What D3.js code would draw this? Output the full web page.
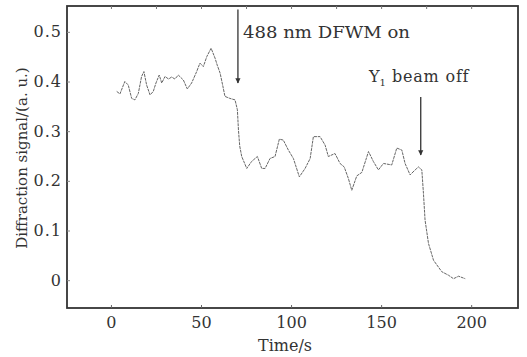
<!DOCTYPE html>
<html>
<head>
<meta charset="utf-8">
<script src="https://cdn.jsdelivr.net/npm/d3@7"></script>
<style>
  body { margin: 0; background: #fff; }
  text { font-family: "DejaVu Serif", serif; fill: #333; }
</style>
</head>
<body>
<div id="chart-area"></div>
<script>
// time in seconds
var times = [3.2, 5, 7.7, 9.6, 11.5, 13.3, 15.2, 17, 18.3, 19.8, 21.7, 23.5, 25, 26.8, 28.2, 30, 32, 33.7, 35.5, 37.4,
  40.2, 42.4, 44.8, 47.6, 49.4, 51.3, 53.2, 55.6, 57.8, 59, 60.6, 62, 63.3, 66, 68.9, 70.2, 70.8, 71.5, 72.6, 75.4,
  78.1, 81.3, 83.7, 85.6, 88.3, 91.1, 93.5, 95.7, 98.5, 101.3, 104.6, 107.8, 110.6, 112.4, 116.1, 118.9, 120.7, 124.4, 127.2, 129.5,
  131.8, 133.7, 136.5, 139.3, 143, 145.7, 148.5, 151.3, 155.9, 158.7, 161.5, 163.3, 166.1, 168.9, 170.7, 172.6, 173.5, 174.4, 176.3, 179.1,
  183.7, 187.4, 190.2, 193, 196.7];
// diffraction signal (a.u.)
var signal = [0.38, 0.375, 0.40, 0.393, 0.366, 0.363, 0.376, 0.41, 0.42, 0.393, 0.373, 0.38, 0.397, 0.413, 0.397, 0.41, 0.405, 0.409, 0.405, 0.413,
  0.403, 0.385, 0.397, 0.42, 0.437, 0.43, 0.45, 0.467, 0.447, 0.433, 0.417, 0.393, 0.37, 0.366, 0.363, 0.343, 0.302, 0.27, 0.249, 0.225,
  0.239, 0.249, 0.225, 0.225, 0.245, 0.249, 0.284, 0.282, 0.262, 0.245, 0.208, 0.225, 0.245, 0.289, 0.289, 0.272, 0.249, 0.255, 0.235, 0.228,
  0.205, 0.181, 0.21, 0.217, 0.259, 0.239, 0.222, 0.235, 0.232, 0.266, 0.262, 0.235, 0.212, 0.222, 0.228, 0.222, 0.175, 0.121, 0.074, 0.040,
  0.017, 0.010, 0.003, 0.008, 0.003];

var xTicks = [0, 50, 100, 150, 200];
var xTopTicks = [0, 25, 50, 75, 100, 125, 150, 175, 200];
var yTicks = [0, 0.1, 0.2, 0.3, 0.4, 0.5];
var yTickLabels = ["0", "0.1", "0.2", "0.3", "0.4", "0.5"];

// annotations: [time, arrow top, arrow tip]
var annotations = [
  { label: "488 nm DFWM on", t: 70.5, top: 0.545, tip: 0.397 },
  { label: "beam off", t: 172, top: 0.369, tip: 0.252 }
];

var width = 527, height = 357;
var margin = { left: 67, right: 9, top: 6, bottom: 49 };

var xscale = d3.scaleLinear().domain([-24.4, 226]).range([margin.left, width - margin.right]);
var yscale = d3.scaleLinear().domain([-0.056, 0.552]).range([height - margin.bottom, margin.top]);

var svg = d3.select("#chart-area").append("svg")
  .attr("width", width)
  .attr("height", height);

// trace
var line = d3.line()
  .x(function (d, i) { return xscale(times[i]); })
  .y(function (d) { return yscale(d); });

svg.append("path")
  .datum(signal)
  .attr("d", line)
  .attr("fill", "none")
  .attr("stroke", "#666")
  .attr("stroke-width", 1)
  .attr("stroke-dasharray", "3,0.8");

// frame
svg.append("rect")
  .attr("x", margin.left)
  .attr("y", margin.top)
  .attr("width", width - margin.left - margin.right)
  .attr("height", height - margin.bottom - margin.top)
  .attr("fill", "none")
  .attr("stroke", "#333")
  .attr("stroke-width", 1.8);

// bottom axis
var xAxis = d3.axisBottom(xscale).tickValues(xTicks).tickSize(-3).tickPadding(9);
svg.append("g")
  .attr("transform", "translate(0," + (height - margin.bottom) + ")")
  .call(xAxis)
  .call(function (g) { g.select(".domain").remove(); })
  .call(function (g) { g.selectAll("line").attr("stroke", "#666"); })
  .selectAll("text")
  .attr("font-size", "16px")
  .attr("font-family", "DejaVu Serif, serif")
  .attr("fill", "#333");

// top ticks
svg.append("g")
  .attr("transform", "translate(0," + margin.top + ")")
  .call(d3.axisTop(xscale).tickValues(xTopTicks).tickSize(-3).tickFormat(""))
  .call(function (g) { g.select(".domain").remove(); })
  .selectAll("line").attr("stroke", "#777");

// left axis
var yAxis = d3.axisLeft(yscale).tickValues(yTicks).tickSize(-3).tickPadding(5)
  .tickFormat(function (d, i) { return yTickLabels[i]; });
svg.append("g")
  .attr("transform", "translate(" + margin.left + ",0)")
  .call(yAxis)
  .call(function (g) { g.select(".domain").remove(); })
  .call(function (g) { g.selectAll("line").attr("stroke", "#888"); })
  .selectAll("text")
  .attr("font-size", "16px")
  .attr("font-family", "DejaVu Serif, serif")
  .style("letter-spacing", "1px")
  .attr("fill", "#333");

// axis labels
svg.append("text")
  .attr("x", 285)
  .attr("y", 351)
  .attr("text-anchor", "middle")
  .attr("font-size", "16px")
  .text("Time/s");

svg.append("text")
  .attr("transform", "translate(27,158) rotate(-90)")
  .attr("text-anchor", "middle")
  .attr("font-size", "15px")
  .text("Diffraction signal/(a. u.)");

// arrows
svg.append("defs").append("marker")
  .attr("id", "head")
  .attr("viewBox", "0 0 10 10")
  .attr("refX", 9).attr("refY", 5)
  .attr("markerWidth", 4).attr("markerHeight", 6)
  .attr("orient", "auto")
  .append("path")
  .attr("d", "M0,0L10,5L0,10Z")
  .attr("fill", "#333");

svg.selectAll(".arrow")
  .data(annotations)
  .enter()
  .append("line")
  .attr("class", "arrow")
  .attr("x1", function (d) { return xscale(d.t); })
  .attr("x2", function (d) { return xscale(d.t); })
  .attr("y1", function (d) { return yscale(d.top); })
  .attr("y2", function (d) { return yscale(d.tip); })
  .attr("stroke", "#333")
  .attr("stroke-width", 1.3)
  .attr("marker-end", "url(#head)");

svg.append("text")
  .attr("x", 243)
  .attr("y", 38)
  .attr("font-size", "16px")
  .attr("textLength", 167)
  .attr("lengthAdjust", "spacingAndGlyphs")
  .text(annotations[0].label);

var y1 = svg.append("text")
  .attr("x", 369)
  .attr("y", 82)
  .attr("font-size", "16px");
y1.append("tspan").text("Y");
y1.append("tspan").attr("font-size", "10px").attr("dy", 4).text("1");
y1.append("tspan").attr("dy", -4).attr("dx", 6).style("letter-spacing", "0.8px").text(annotations[1].label);
</script>
</body>
</html>
